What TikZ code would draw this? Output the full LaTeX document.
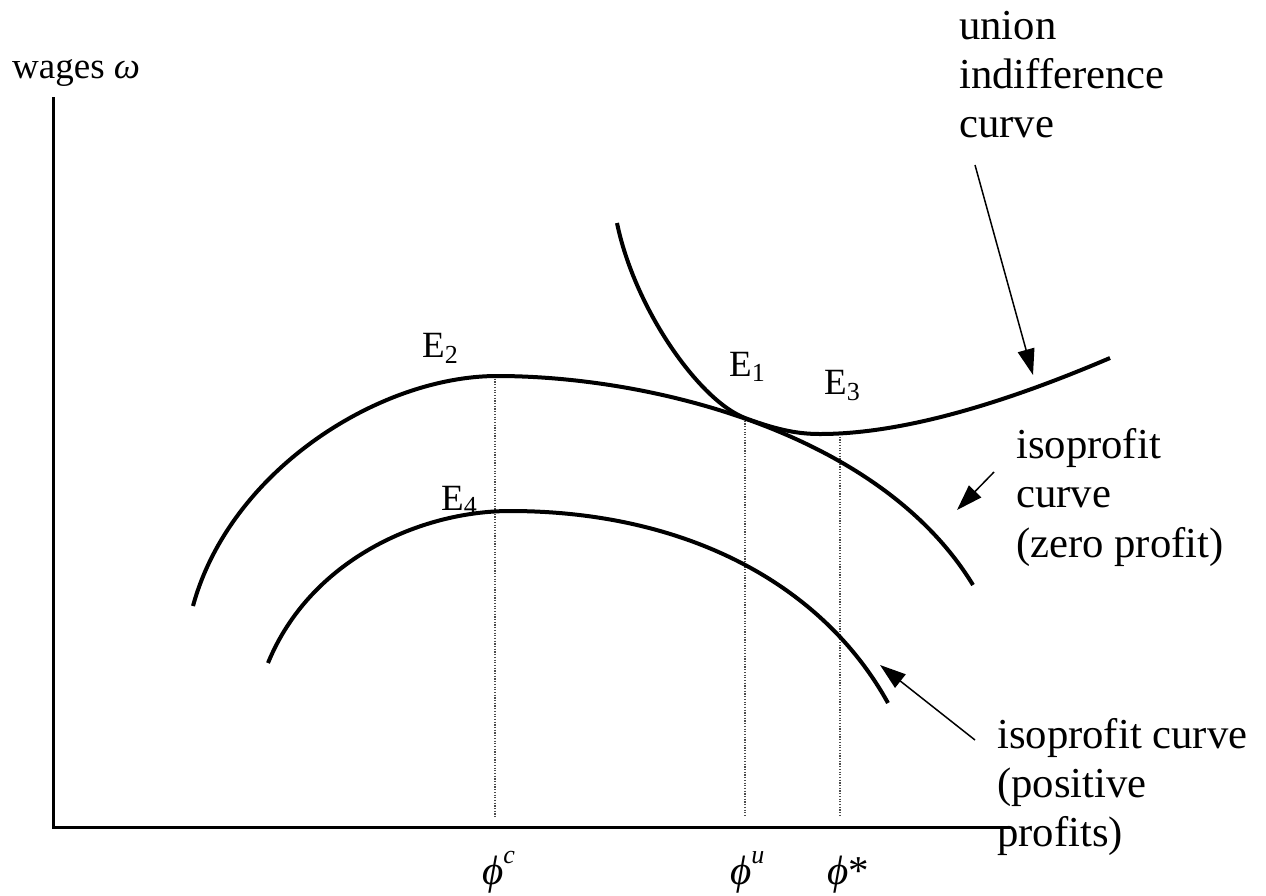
\documentclass[tikz,border=0pt]{standalone}
\usepackage{fontspec}
\setmainfont{Liberation Serif}
\usetikzlibrary{arrows.meta}
\begin{document}
\begin{tikzpicture}[x=1pt,y=-1pt,
  curve/.style={line width=4pt},
  axis/.style={line width=3pt},
  guide/.style={line width=1.2pt, dash pattern=on 1.2pt off 1.5pt, black!70},
  pointer/.style={line width=1.5pt,-{Triangle[length=26pt,width=17pt]}},
  lbl/.style={inner sep=0pt, anchor=base west, font=\fontsize{42.7}{49}\selectfont},
  elbl/.style={inner sep=0pt, anchor=base west, font=\fontsize{37}{40}\selectfont},
  phil/.style={inner sep=0pt, anchor=base west, font=\fontsize{41}{44}\selectfont},
]
\useasboundingbox (0,0) rectangle (1266,895);

% axes
\coordinate (ytop) at (53,97);
\coordinate (origin) at (53,827);
\coordinate (xend) at (1010,827);
\draw[axis] (ytop) -- (origin) -- (xend);

% guide lines
\coordinate (gc1) at (495,376); \coordinate (gc2) at (495,818);
\coordinate (gu1) at (745,418); \coordinate (gu2) at (745,817);
\coordinate (gs1) at (840,434); \coordinate (gs2) at (840,816);
\draw[guide] (gc1) -- (gc2);
\draw[guide] (gu1) -- (gu2);
\draw[guide] (gs1) -- (gs2);

% zero-profit isoprofit curve
\coordinate (za0) at (193,606);
\coordinate (zpk) at (497,376);
\coordinate (zend) at (973,585);
\draw[curve] (za0) .. controls (230,470) and (380,376) .. (zpk)
                   .. controls (650,376) and (880,432) .. (zend);

% positive-profit isoprofit curve
\coordinate (pa0) at (268,663);
\coordinate (ppk) at (510,511);
\coordinate (pend) at (888,703);
\draw[curve] (pa0) .. controls (310,560) and (420,511) .. (ppk)
                   .. controls (680,511) and (820,580) .. (pend);

% union indifference curve
\coordinate (ua0) at (617,223);
\coordinate (utan) at (745,418);
\coordinate (umin) at (820,434);
\coordinate (uend) at (1110,358);
\draw[curve] (ua0) .. controls (635,310) and (700,401) .. (utan)
                   .. controls (780,431) and (800,434) .. (umin)
                   .. controls (900,434) and (1000,405) .. (uend);

% labels
\node[elbl] (wages) at (12,78) {wages {\itshape ω}};
\node[elbl] (E2) at (422,357) {E\raisebox{-6pt}{\fontsize{26}{26}\selectfont 2}};
\node[elbl] (E1) at (729,376) {E\raisebox{-5pt}{\fontsize{26}{26}\selectfont 1}};
\node[elbl] (E3) at (824,394) {E\raisebox{-6pt}{\fontsize{26}{26}\selectfont 3}};
\node[elbl] (E4) at (441,510) {E\raisebox{-4pt}{\fontsize{26}{26}\selectfont 4}};

\node[phil] (phic) at (482,884) {{\itshape ϕ}\raisebox{21pt}{\fontsize{26}{26}\selectfont\itshape c}};
\node[phil] (phiu) at (730,884) {{\itshape ϕ}\raisebox{21pt}{\fontsize{26}{26}\selectfont\itshape u}};
\node[phil] (phis) at (827,884) {{\itshape ϕ}*};

\node[lbl] (u1) at (959,39) {union};
\node[lbl] (u2) at (959,88) {indifference};
\node[lbl] (u3) at (959,137) {curve};

\node[lbl] (z1) at (1016,458) {isoprofit};
\node[lbl] (z2) at (1016,507) {curve};
\node[lbl] (z3) at (1016,557) {(zero profit)};

\node[lbl] (p1) at (997,748) {isoprofit curve};
\node[lbl] (p2) at (997,797) {(positive};
\node[lbl] (p3) at (997,846) {profits)};

% pointers
\coordinate (ua) at (975,165); \coordinate (ub) at (1033,375);
\coordinate (za) at (994,472); \coordinate (zb) at (957,510);
\coordinate (pa) at (975,740); \coordinate (pb) at (880,665);
\draw[pointer] (ua) -- (ub);
\draw[pointer] (za) -- (zb);
\draw[pointer] (pa) -- (pb);
\end{tikzpicture}
\end{document}
